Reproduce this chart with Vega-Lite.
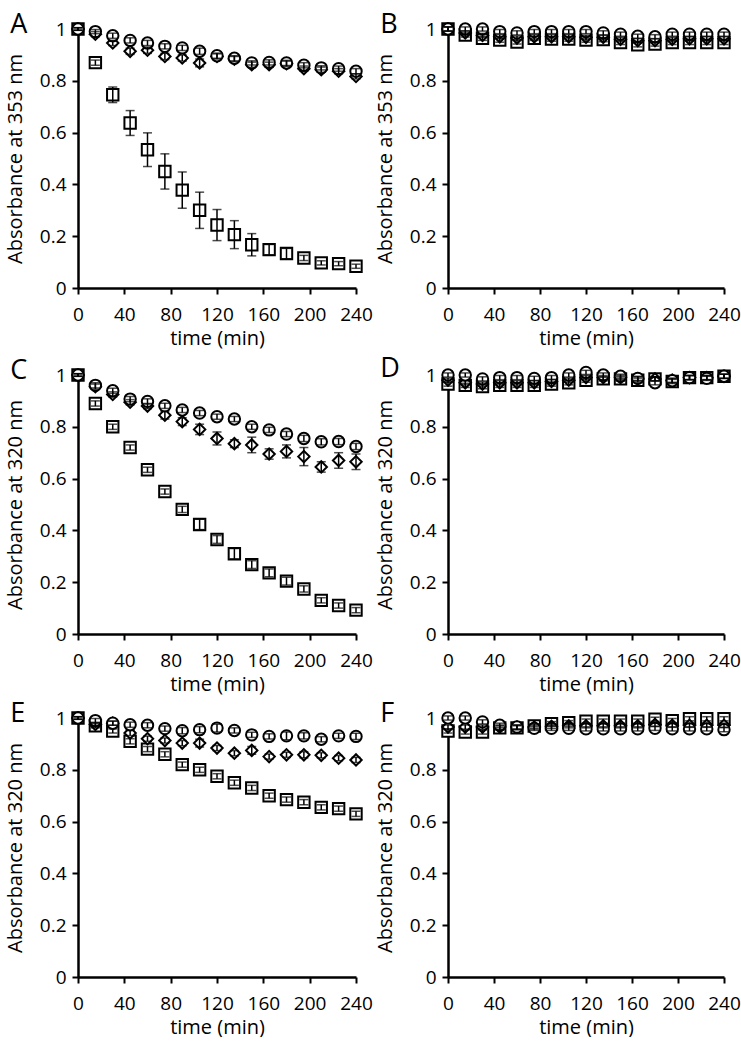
{
"$schema": "https://vega.github.io/schema/vega-lite/v6.json",
"background": "white",
"padding": {"left": 5, "top": 11, "right": 0, "bottom": 0},
"data": {"values": [
{"p":"A","s":"sq","t":0,"y":1.0,"e":0.005},{"p":"A","s":"sq","t":15,"y":0.87,"e":0.01},{"p":"A","s":"sq","t":30,"y":0.746,"e":0.03},{"p":"A","s":"sq","t":45,"y":0.637,"e":0.048},{"p":"A","s":"sq","t":60,"y":0.534,"e":0.065},{"p":"A","s":"sq","t":75,"y":0.45,"e":0.068},{"p":"A","s":"sq","t":90,"y":0.378,"e":0.07},{"p":"A","s":"sq","t":105,"y":0.3,"e":0.07},{"p":"A","s":"sq","t":120,"y":0.243,"e":0.06},{"p":"A","s":"sq","t":135,"y":0.206,"e":0.054},{"p":"A","s":"sq","t":150,"y":0.167,"e":0.043},{"p":"A","s":"sq","t":165,"y":0.148,"e":0.02},{"p":"A","s":"sq","t":180,"y":0.133,"e":0.02},{"p":"A","s":"sq","t":195,"y":0.116,"e":0.01},{"p":"A","s":"sq","t":210,"y":0.097,"e":0.008},{"p":"A","s":"sq","t":225,"y":0.094,"e":0.008},{"p":"A","s":"sq","t":240,"y":0.084,"e":0.008},
{"p":"A","s":"di","t":0,"y":1.0,"e":0.005},{"p":"A","s":"di","t":15,"y":0.98,"e":0.01},{"p":"A","s":"di","t":30,"y":0.946,"e":0.01},{"p":"A","s":"di","t":45,"y":0.914,"e":0.012},{"p":"A","s":"di","t":60,"y":0.918,"e":0.012},{"p":"A","s":"di","t":75,"y":0.894,"e":0.012},{"p":"A","s":"di","t":90,"y":0.888,"e":0.012},{"p":"A","s":"di","t":105,"y":0.869,"e":0.015},{"p":"A","s":"di","t":120,"y":0.894,"e":0.01},{"p":"A","s":"di","t":135,"y":0.884,"e":0.01},{"p":"A","s":"di","t":150,"y":0.862,"e":0.01},{"p":"A","s":"di","t":165,"y":0.862,"e":0.01},{"p":"A","s":"di","t":180,"y":0.866,"e":0.01},{"p":"A","s":"di","t":195,"y":0.847,"e":0.01},{"p":"A","s":"di","t":210,"y":0.843,"e":0.01},{"p":"A","s":"di","t":225,"y":0.837,"e":0.01},{"p":"A","s":"di","t":240,"y":0.817,"e":0.01},
{"p":"A","s":"ci","t":0,"y":1.0,"e":0.005},{"p":"A","s":"ci","t":15,"y":0.99,"e":0.008},{"p":"A","s":"ci","t":30,"y":0.974,"e":0.01},{"p":"A","s":"ci","t":45,"y":0.956,"e":0.01},{"p":"A","s":"ci","t":60,"y":0.946,"e":0.01},{"p":"A","s":"ci","t":75,"y":0.933,"e":0.01},{"p":"A","s":"ci","t":90,"y":0.927,"e":0.01},{"p":"A","s":"ci","t":105,"y":0.914,"e":0.012},{"p":"A","s":"ci","t":120,"y":0.897,"e":0.01},{"p":"A","s":"ci","t":135,"y":0.887,"e":0.01},{"p":"A","s":"ci","t":150,"y":0.869,"e":0.008},{"p":"A","s":"ci","t":165,"y":0.871,"e":0.01},{"p":"A","s":"ci","t":180,"y":0.869,"e":0.01},{"p":"A","s":"ci","t":195,"y":0.86,"e":0.01},{"p":"A","s":"ci","t":210,"y":0.85,"e":0.008},{"p":"A","s":"ci","t":225,"y":0.847,"e":0.01},{"p":"A","s":"ci","t":240,"y":0.837,"e":0.01},
{"p":"B","s":"sq","t":0,"y":1.0,"e":0.008},{"p":"B","s":"sq","t":15,"y":0.977,"e":0.008},{"p":"B","s":"sq","t":30,"y":0.964,"e":0.008},{"p":"B","s":"sq","t":45,"y":0.957,"e":0.008},{"p":"B","s":"sq","t":60,"y":0.95,"e":0.008},{"p":"B","s":"sq","t":75,"y":0.964,"e":0.008},{"p":"B","s":"sq","t":90,"y":0.961,"e":0.008},{"p":"B","s":"sq","t":105,"y":0.961,"e":0.008},{"p":"B","s":"sq","t":120,"y":0.957,"e":0.008},{"p":"B","s":"sq","t":135,"y":0.959,"e":0.008},{"p":"B","s":"sq","t":150,"y":0.948,"e":0.008},{"p":"B","s":"sq","t":165,"y":0.939,"e":0.008},{"p":"B","s":"sq","t":180,"y":0.942,"e":0.008},{"p":"B","s":"sq","t":195,"y":0.948,"e":0.008},{"p":"B","s":"sq","t":210,"y":0.948,"e":0.008},{"p":"B","s":"sq","t":225,"y":0.948,"e":0.008},{"p":"B","s":"sq","t":240,"y":0.948,"e":0.008},
{"p":"B","s":"di","t":0,"y":1.0,"e":0.008},{"p":"B","s":"di","t":15,"y":0.985,"e":0.008},{"p":"B","s":"di","t":30,"y":0.975,"e":0.008},{"p":"B","s":"di","t":45,"y":0.97,"e":0.008},{"p":"B","s":"di","t":60,"y":0.965,"e":0.008},{"p":"B","s":"di","t":75,"y":0.97,"e":0.008},{"p":"B","s":"di","t":90,"y":0.97,"e":0.008},{"p":"B","s":"di","t":105,"y":0.97,"e":0.008},{"p":"B","s":"di","t":120,"y":0.968,"e":0.008},{"p":"B","s":"di","t":135,"y":0.968,"e":0.008},{"p":"B","s":"di","t":150,"y":0.96,"e":0.008},{"p":"B","s":"di","t":165,"y":0.955,"e":0.008},{"p":"B","s":"di","t":180,"y":0.955,"e":0.008},{"p":"B","s":"di","t":195,"y":0.96,"e":0.008},{"p":"B","s":"di","t":210,"y":0.962,"e":0.008},{"p":"B","s":"di","t":225,"y":0.962,"e":0.008},{"p":"B","s":"di","t":240,"y":0.962,"e":0.008},
{"p":"B","s":"ci","t":0,"y":1.0,"e":0.008},{"p":"B","s":"ci","t":15,"y":1.0,"e":0.008},{"p":"B","s":"ci","t":30,"y":1.0,"e":0.008},{"p":"B","s":"ci","t":45,"y":0.99,"e":0.008},{"p":"B","s":"ci","t":60,"y":0.985,"e":0.008},{"p":"B","s":"ci","t":75,"y":0.99,"e":0.008},{"p":"B","s":"ci","t":90,"y":0.99,"e":0.008},{"p":"B","s":"ci","t":105,"y":0.99,"e":0.008},{"p":"B","s":"ci","t":120,"y":0.99,"e":0.008},{"p":"B","s":"ci","t":135,"y":0.985,"e":0.008},{"p":"B","s":"ci","t":150,"y":0.98,"e":0.008},{"p":"B","s":"ci","t":165,"y":0.972,"e":0.008},{"p":"B","s":"ci","t":180,"y":0.97,"e":0.008},{"p":"B","s":"ci","t":195,"y":0.98,"e":0.008},{"p":"B","s":"ci","t":210,"y":0.98,"e":0.008},{"p":"B","s":"ci","t":225,"y":0.98,"e":0.008},{"p":"B","s":"ci","t":240,"y":0.98,"e":0.008},
{"p":"C","s":"sq","t":0,"y":1.0,"e":0.005},{"p":"C","s":"sq","t":15,"y":0.89,"e":0.01},{"p":"C","s":"sq","t":30,"y":0.8,"e":0.01},{"p":"C","s":"sq","t":45,"y":0.72,"e":0.01},{"p":"C","s":"sq","t":60,"y":0.634,"e":0.01},{"p":"C","s":"sq","t":75,"y":0.55,"e":0.01},{"p":"C","s":"sq","t":90,"y":0.481,"e":0.012},{"p":"C","s":"sq","t":105,"y":0.423,"e":0.02},{"p":"C","s":"sq","t":120,"y":0.365,"e":0.015},{"p":"C","s":"sq","t":135,"y":0.31,"e":0.02},{"p":"C","s":"sq","t":150,"y":0.268,"e":0.015},{"p":"C","s":"sq","t":165,"y":0.236,"e":0.015},{"p":"C","s":"sq","t":180,"y":0.204,"e":0.015},{"p":"C","s":"sq","t":195,"y":0.174,"e":0.012},{"p":"C","s":"sq","t":210,"y":0.13,"e":0.01},{"p":"C","s":"sq","t":225,"y":0.11,"e":0.01},{"p":"C","s":"sq","t":240,"y":0.092,"e":0.01},
{"p":"C","s":"di","t":0,"y":1.0,"e":0.005},{"p":"C","s":"di","t":15,"y":0.955,"e":0.01},{"p":"C","s":"di","t":30,"y":0.925,"e":0.01},{"p":"C","s":"di","t":45,"y":0.895,"e":0.01},{"p":"C","s":"di","t":60,"y":0.88,"e":0.01},{"p":"C","s":"di","t":75,"y":0.845,"e":0.015},{"p":"C","s":"di","t":90,"y":0.82,"e":0.015},{"p":"C","s":"di","t":105,"y":0.79,"e":0.02},{"p":"C","s":"di","t":120,"y":0.755,"e":0.025},{"p":"C","s":"di","t":135,"y":0.735,"e":0.015},{"p":"C","s":"di","t":150,"y":0.73,"e":0.03},{"p":"C","s":"di","t":165,"y":0.695,"e":0.02},{"p":"C","s":"di","t":180,"y":0.705,"e":0.025},{"p":"C","s":"di","t":195,"y":0.685,"e":0.035},{"p":"C","s":"di","t":210,"y":0.645,"e":0.02},{"p":"C","s":"di","t":225,"y":0.67,"e":0.03},{"p":"C","s":"di","t":240,"y":0.665,"e":0.03},
{"p":"C","s":"ci","t":0,"y":1.0,"e":0.005},{"p":"C","s":"ci","t":15,"y":0.96,"e":0.01},{"p":"C","s":"ci","t":30,"y":0.939,"e":0.01},{"p":"C","s":"ci","t":45,"y":0.907,"e":0.01},{"p":"C","s":"ci","t":60,"y":0.898,"e":0.01},{"p":"C","s":"ci","t":75,"y":0.881,"e":0.01},{"p":"C","s":"ci","t":90,"y":0.865,"e":0.01},{"p":"C","s":"ci","t":105,"y":0.853,"e":0.01},{"p":"C","s":"ci","t":120,"y":0.839,"e":0.01},{"p":"C","s":"ci","t":135,"y":0.83,"e":0.01},{"p":"C","s":"ci","t":150,"y":0.8,"e":0.01},{"p":"C","s":"ci","t":165,"y":0.788,"e":0.01},{"p":"C","s":"ci","t":180,"y":0.772,"e":0.01},{"p":"C","s":"ci","t":195,"y":0.755,"e":0.012},{"p":"C","s":"ci","t":210,"y":0.742,"e":0.012},{"p":"C","s":"ci","t":225,"y":0.743,"e":0.012},{"p":"C","s":"ci","t":240,"y":0.724,"e":0.012},
{"p":"D","s":"sq","t":0,"y":0.965,"e":0.008},{"p":"D","s":"sq","t":15,"y":0.96,"e":0.008},{"p":"D","s":"sq","t":30,"y":0.955,"e":0.008},{"p":"D","s":"sq","t":45,"y":0.96,"e":0.008},{"p":"D","s":"sq","t":60,"y":0.96,"e":0.008},{"p":"D","s":"sq","t":75,"y":0.96,"e":0.008},{"p":"D","s":"sq","t":90,"y":0.965,"e":0.008},{"p":"D","s":"sq","t":105,"y":0.97,"e":0.008},{"p":"D","s":"sq","t":120,"y":0.98,"e":0.008},{"p":"D","s":"sq","t":135,"y":0.985,"e":0.008},{"p":"D","s":"sq","t":150,"y":0.985,"e":0.008},{"p":"D","s":"sq","t":165,"y":0.98,"e":0.008},{"p":"D","s":"sq","t":180,"y":0.985,"e":0.008},{"p":"D","s":"sq","t":195,"y":0.975,"e":0.008},{"p":"D","s":"sq","t":210,"y":0.99,"e":0.008},{"p":"D","s":"sq","t":225,"y":0.99,"e":0.008},{"p":"D","s":"sq","t":240,"y":0.995,"e":0.008},
{"p":"D","s":"di","t":0,"y":0.98,"e":0.008},{"p":"D","s":"di","t":15,"y":0.97,"e":0.008},{"p":"D","s":"di","t":30,"y":0.965,"e":0.008},{"p":"D","s":"di","t":45,"y":0.97,"e":0.008},{"p":"D","s":"di","t":60,"y":0.97,"e":0.008},{"p":"D","s":"di","t":75,"y":0.97,"e":0.008},{"p":"D","s":"di","t":90,"y":0.975,"e":0.008},{"p":"D","s":"di","t":105,"y":0.98,"e":0.008},{"p":"D","s":"di","t":120,"y":0.99,"e":0.008},{"p":"D","s":"di","t":135,"y":0.99,"e":0.008},{"p":"D","s":"di","t":150,"y":0.99,"e":0.008},{"p":"D","s":"di","t":165,"y":0.985,"e":0.008},{"p":"D","s":"di","t":180,"y":0.985,"e":0.008},{"p":"D","s":"di","t":195,"y":0.98,"e":0.008},{"p":"D","s":"di","t":210,"y":0.99,"e":0.008},{"p":"D","s":"di","t":225,"y":0.99,"e":0.008},{"p":"D","s":"di","t":240,"y":0.995,"e":0.008},
{"p":"D","s":"ci","t":0,"y":1.0,"e":0.008},{"p":"D","s":"ci","t":15,"y":1.0,"e":0.008},{"p":"D","s":"ci","t":30,"y":0.985,"e":0.008},{"p":"D","s":"ci","t":45,"y":0.99,"e":0.008},{"p":"D","s":"ci","t":60,"y":0.99,"e":0.008},{"p":"D","s":"ci","t":75,"y":0.987,"e":0.008},{"p":"D","s":"ci","t":90,"y":0.99,"e":0.008},{"p":"D","s":"ci","t":105,"y":1.0,"e":0.008},{"p":"D","s":"ci","t":120,"y":1.01,"e":0.008},{"p":"D","s":"ci","t":135,"y":1.0,"e":0.008},{"p":"D","s":"ci","t":150,"y":0.995,"e":0.008},{"p":"D","s":"ci","t":165,"y":0.987,"e":0.008},{"p":"D","s":"ci","t":180,"y":0.97,"e":0.008},{"p":"D","s":"ci","t":195,"y":0.978,"e":0.008},{"p":"D","s":"ci","t":210,"y":0.99,"e":0.008},{"p":"D","s":"ci","t":225,"y":0.987,"e":0.008},{"p":"D","s":"ci","t":240,"y":0.995,"e":0.008},
{"p":"E","s":"sq","t":0,"y":1.0,"e":0.005},{"p":"E","s":"sq","t":15,"y":0.97,"e":0.008},{"p":"E","s":"sq","t":30,"y":0.95,"e":0.008},{"p":"E","s":"sq","t":45,"y":0.91,"e":0.01},{"p":"E","s":"sq","t":60,"y":0.88,"e":0.01},{"p":"E","s":"sq","t":75,"y":0.86,"e":0.01},{"p":"E","s":"sq","t":90,"y":0.82,"e":0.01},{"p":"E","s":"sq","t":105,"y":0.8,"e":0.01},{"p":"E","s":"sq","t":120,"y":0.775,"e":0.01},{"p":"E","s":"sq","t":135,"y":0.75,"e":0.01},{"p":"E","s":"sq","t":150,"y":0.73,"e":0.01},{"p":"E","s":"sq","t":165,"y":0.7,"e":0.01},{"p":"E","s":"sq","t":180,"y":0.685,"e":0.01},{"p":"E","s":"sq","t":195,"y":0.675,"e":0.01},{"p":"E","s":"sq","t":210,"y":0.655,"e":0.01},{"p":"E","s":"sq","t":225,"y":0.65,"e":0.01},{"p":"E","s":"sq","t":240,"y":0.63,"e":0.01},
{"p":"E","s":"di","t":0,"y":1.0,"e":0.005},{"p":"E","s":"di","t":15,"y":0.975,"e":0.008},{"p":"E","s":"di","t":30,"y":0.98,"e":0.008},{"p":"E","s":"di","t":45,"y":0.942,"e":0.01},{"p":"E","s":"di","t":60,"y":0.92,"e":0.01},{"p":"E","s":"di","t":75,"y":0.913,"e":0.01},{"p":"E","s":"di","t":90,"y":0.903,"e":0.01},{"p":"E","s":"di","t":105,"y":0.903,"e":0.015},{"p":"E","s":"di","t":120,"y":0.884,"e":0.01},{"p":"E","s":"di","t":135,"y":0.864,"e":0.01},{"p":"E","s":"di","t":150,"y":0.875,"e":0.015},{"p":"E","s":"di","t":165,"y":0.851,"e":0.01},{"p":"E","s":"di","t":180,"y":0.858,"e":0.01},{"p":"E","s":"di","t":195,"y":0.858,"e":0.012},{"p":"E","s":"di","t":210,"y":0.856,"e":0.01},{"p":"E","s":"di","t":225,"y":0.845,"e":0.01},{"p":"E","s":"di","t":240,"y":0.838,"e":0.01},
{"p":"E","s":"ci","t":0,"y":1.0,"e":0.005},{"p":"E","s":"ci","t":15,"y":0.99,"e":0.008},{"p":"E","s":"ci","t":30,"y":0.98,"e":0.008},{"p":"E","s":"ci","t":45,"y":0.974,"e":0.01},{"p":"E","s":"ci","t":60,"y":0.972,"e":0.01},{"p":"E","s":"ci","t":75,"y":0.959,"e":0.01},{"p":"E","s":"ci","t":90,"y":0.951,"e":0.012},{"p":"E","s":"ci","t":105,"y":0.955,"e":0.012},{"p":"E","s":"ci","t":120,"y":0.961,"e":0.015},{"p":"E","s":"ci","t":135,"y":0.952,"e":0.01},{"p":"E","s":"ci","t":150,"y":0.935,"e":0.01},{"p":"E","s":"ci","t":165,"y":0.929,"e":0.01},{"p":"E","s":"ci","t":180,"y":0.931,"e":0.015},{"p":"E","s":"ci","t":195,"y":0.931,"e":0.012},{"p":"E","s":"ci","t":210,"y":0.918,"e":0.01},{"p":"E","s":"ci","t":225,"y":0.931,"e":0.01},{"p":"E","s":"ci","t":240,"y":0.929,"e":0.012},
{"p":"F","s":"sq","t":0,"y":0.95,"e":0.008},{"p":"F","s":"sq","t":15,"y":0.946,"e":0.008},{"p":"F","s":"sq","t":30,"y":0.946,"e":0.008},{"p":"F","s":"sq","t":45,"y":0.962,"e":0.008},{"p":"F","s":"sq","t":60,"y":0.962,"e":0.008},{"p":"F","s":"sq","t":75,"y":0.969,"e":0.008},{"p":"F","s":"sq","t":90,"y":0.978,"e":0.008},{"p":"F","s":"sq","t":105,"y":0.982,"e":0.008},{"p":"F","s":"sq","t":120,"y":0.988,"e":0.008},{"p":"F","s":"sq","t":135,"y":0.988,"e":0.008},{"p":"F","s":"sq","t":150,"y":0.988,"e":0.008},{"p":"F","s":"sq","t":165,"y":0.988,"e":0.008},{"p":"F","s":"sq","t":180,"y":0.995,"e":0.008},{"p":"F","s":"sq","t":195,"y":0.99,"e":0.008},{"p":"F","s":"sq","t":210,"y":0.997,"e":0.008},{"p":"F","s":"sq","t":225,"y":0.997,"e":0.008},{"p":"F","s":"sq","t":240,"y":0.997,"e":0.008},
{"p":"F","s":"di","t":0,"y":0.965,"e":0.008},{"p":"F","s":"di","t":15,"y":0.965,"e":0.008},{"p":"F","s":"di","t":30,"y":0.965,"e":0.008},{"p":"F","s":"di","t":45,"y":0.965,"e":0.008},{"p":"F","s":"di","t":60,"y":0.965,"e":0.008},{"p":"F","s":"di","t":75,"y":0.965,"e":0.008},{"p":"F","s":"di","t":90,"y":0.968,"e":0.008},{"p":"F","s":"di","t":105,"y":0.97,"e":0.008},{"p":"F","s":"di","t":120,"y":0.97,"e":0.008},{"p":"F","s":"di","t":135,"y":0.97,"e":0.008},{"p":"F","s":"di","t":150,"y":0.97,"e":0.008},{"p":"F","s":"di","t":165,"y":0.97,"e":0.008},{"p":"F","s":"di","t":180,"y":0.975,"e":0.008},{"p":"F","s":"di","t":195,"y":0.972,"e":0.008},{"p":"F","s":"di","t":210,"y":0.972,"e":0.008},{"p":"F","s":"di","t":225,"y":0.972,"e":0.008},{"p":"F","s":"di","t":240,"y":0.972,"e":0.008},
{"p":"F","s":"ci","t":0,"y":1.0,"e":0.008},{"p":"F","s":"ci","t":15,"y":1.0,"e":0.008},{"p":"F","s":"ci","t":30,"y":0.985,"e":0.008},{"p":"F","s":"ci","t":45,"y":0.972,"e":0.008},{"p":"F","s":"ci","t":60,"y":0.965,"e":0.008},{"p":"F","s":"ci","t":75,"y":0.96,"e":0.008},{"p":"F","s":"ci","t":90,"y":0.96,"e":0.008},{"p":"F","s":"ci","t":105,"y":0.96,"e":0.008},{"p":"F","s":"ci","t":120,"y":0.958,"e":0.008},{"p":"F","s":"ci","t":135,"y":0.958,"e":0.008},{"p":"F","s":"ci","t":150,"y":0.958,"e":0.008},{"p":"F","s":"ci","t":165,"y":0.958,"e":0.008},{"p":"F","s":"ci","t":180,"y":0.96,"e":0.008},{"p":"F","s":"ci","t":195,"y":0.958,"e":0.008},{"p":"F","s":"ci","t":210,"y":0.958,"e":0.008},{"p":"F","s":"ci","t":225,"y":0.958,"e":0.008},{"p":"F","s":"ci","t":240,"y":0.955,"e":0.008}
]},
"columns": 2,
"spacing": {"row": 6, "column": 2},
"concat": [
{"title": {"text": "A"}, "width": 278, "height": 259, "transform": [{"filter": "datum.p == 'A'"}],
 "encoding": {"x": {"field": "t", "type": "quantitative", "scale": {"domain": [0, 240]}, "axis": {"values": [0,40,80,120,160,200,240], "title": "time (min)"}},
  "y": {"field": "y", "type": "quantitative", "scale": {"domain": [0, 1]}, "axis": {"values": [0,0.2,0.4,0.6,0.8,1], "format": "~g", "title": "Absorbance at 353 nm"}}},
 "layer": [
  {"mark": {"type": "point", "filled": true, "fill": "white", "stroke": "black", "strokeWidth": 2, "size": 130, "opacity": 1}, "encoding": {"shape": {"field": "s", "type": "nominal", "scale": {"domain": ["sq","di","ci"], "range": ["square","diamond","circle"]}, "legend": null}}},
  {"mark": {"type": "errorbar", "ticks": true, "size": 9, "thickness": 1.5, "color": "black"}, "encoding": {"yError": {"field": "e"}}}
 ]},
{"title": {"text": "B"}, "width": 276, "height": 259, "transform": [{"filter": "datum.p == 'B'"}],
 "encoding": {"x": {"field": "t", "type": "quantitative", "scale": {"domain": [0, 240]}, "axis": {"values": [0,40,80,120,160,200,240], "title": "time (min)"}},
  "y": {"field": "y", "type": "quantitative", "scale": {"domain": [0, 1]}, "axis": {"values": [0,0.2,0.4,0.6,0.8,1], "format": "~g", "title": "Absorbance at 353 nm"}}},
 "layer": [
  {"mark": {"type": "point", "filled": true, "fill": "white", "stroke": "black", "strokeWidth": 2, "size": 130, "opacity": 1}, "encoding": {"shape": {"field": "s", "type": "nominal", "scale": {"domain": ["sq","di","ci"], "range": ["square","diamond","circle"]}, "legend": null}}},
  {"mark": {"type": "errorbar", "ticks": true, "size": 9, "thickness": 1.5, "color": "black"}, "encoding": {"yError": {"field": "e"}}}
 ]},
{"title": {"text": "C"}, "width": 278, "height": 259, "transform": [{"filter": "datum.p == 'C'"}],
 "encoding": {"x": {"field": "t", "type": "quantitative", "scale": {"domain": [0, 240]}, "axis": {"values": [0,40,80,120,160,200,240], "title": "time (min)"}},
  "y": {"field": "y", "type": "quantitative", "scale": {"domain": [0, 1]}, "axis": {"values": [0,0.2,0.4,0.6,0.8,1], "format": "~g", "title": "Absorbance at 320 nm"}}},
 "layer": [
  {"mark": {"type": "point", "filled": true, "fill": "white", "stroke": "black", "strokeWidth": 2, "size": 130, "opacity": 1}, "encoding": {"shape": {"field": "s", "type": "nominal", "scale": {"domain": ["sq","di","ci"], "range": ["square","diamond","circle"]}, "legend": null}}},
  {"mark": {"type": "errorbar", "ticks": true, "size": 9, "thickness": 1.5, "color": "black"}, "encoding": {"yError": {"field": "e"}}}
 ]},
{"title": {"text": "D"}, "width": 276, "height": 259, "transform": [{"filter": "datum.p == 'D'"}],
 "encoding": {"x": {"field": "t", "type": "quantitative", "scale": {"domain": [0, 240]}, "axis": {"values": [0,40,80,120,160,200,240], "title": "time (min)"}},
  "y": {"field": "y", "type": "quantitative", "scale": {"domain": [0, 1]}, "axis": {"values": [0,0.2,0.4,0.6,0.8,1], "format": "~g", "title": "Absorbance at 320 nm"}}},
 "layer": [
  {"mark": {"type": "point", "filled": true, "fill": "white", "stroke": "black", "strokeWidth": 2, "size": 130, "opacity": 1}, "encoding": {"shape": {"field": "s", "type": "nominal", "scale": {"domain": ["sq","di","ci"], "range": ["square","diamond","circle"]}, "legend": null}}},
  {"mark": {"type": "errorbar", "ticks": true, "size": 9, "thickness": 1.5, "color": "black"}, "encoding": {"yError": {"field": "e"}}}
 ]},
{"title": {"text": "E"}, "width": 278, "height": 259, "transform": [{"filter": "datum.p == 'E'"}],
 "encoding": {"x": {"field": "t", "type": "quantitative", "scale": {"domain": [0, 240]}, "axis": {"values": [0,40,80,120,160,200,240], "title": "time (min)"}},
  "y": {"field": "y", "type": "quantitative", "scale": {"domain": [0, 1]}, "axis": {"values": [0,0.2,0.4,0.6,0.8,1], "format": "~g", "title": "Absorbance at 320 nm"}}},
 "layer": [
  {"mark": {"type": "point", "filled": true, "fill": "white", "stroke": "black", "strokeWidth": 2, "size": 130, "opacity": 1}, "encoding": {"shape": {"field": "s", "type": "nominal", "scale": {"domain": ["sq","di","ci"], "range": ["square","diamond","circle"]}, "legend": null}}},
  {"mark": {"type": "errorbar", "ticks": true, "size": 9, "thickness": 1.5, "color": "black"}, "encoding": {"yError": {"field": "e"}}}
 ]},
{"title": {"text": "F"}, "width": 276, "height": 259, "transform": [{"filter": "datum.p == 'F'"}],
 "encoding": {"x": {"field": "t", "type": "quantitative", "scale": {"domain": [0, 240]}, "axis": {"values": [0,40,80,120,160,200,240], "title": "time (min)"}},
  "y": {"field": "y", "type": "quantitative", "scale": {"domain": [0, 1]}, "axis": {"values": [0,0.2,0.4,0.6,0.8,1], "format": "~g", "title": "Absorbance at 320 nm"}}},
 "layer": [
  {"mark": {"type": "point", "filled": true, "fill": "white", "stroke": "black", "strokeWidth": 2, "size": 130, "opacity": 1}, "encoding": {"shape": {"field": "s", "type": "nominal", "scale": {"domain": ["sq","di","ci"], "range": ["square","diamond","circle"]}, "legend": null}}},
  {"mark": {"type": "errorbar", "ticks": true, "size": 9, "thickness": 1.5, "color": "black"}, "encoding": {"yError": {"field": "e"}}}
 ]}
],
"config": {
 "font": "Open Sans",
 "view": {"stroke": null},
 "axis": {"grid": false, "domainColor": "black", "domainWidth": 2.5, "tickColor": "black", "tickWidth": 2, "tickSize": 6, "labelFont": "Open Sans", "labelFontSize": 19, "labelColor": "black", "labelOverlap": false, "labelFlush": false, "titleFont": "Open Sans", "titleFontSize": 20, "titleFontWeight": "normal", "titleColor": "black"},
 "axisX": {"labelPadding": 11, "titlePadding": 4},
 "axisY": {"labelPadding": 6, "titlePadding": 14},
 "title": {"anchor": "start", "frame": "bounds", "font": "Open Sans", "fontSize": 27, "fontWeight": "normal", "color": "black", "offset": -20, "dx": 5}
}
}
